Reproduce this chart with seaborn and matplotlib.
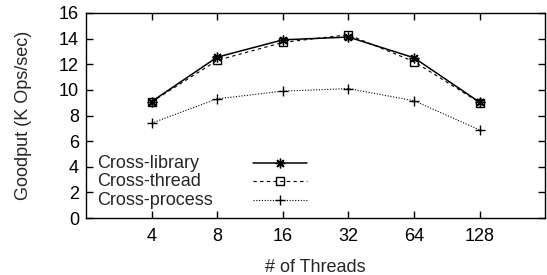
import matplotlib
matplotlib.use("Agg")
import matplotlib.pyplot as plt
import seaborn as sns
import pandas as pd

# data
threads = [4, 8, 16, 32, 64, 128]
cross_library = [9.08, 12.55, 13.9, 14.12, 12.5, 9.03]
cross_thread = [9.05, 12.3, 13.7, 14.3, 12.2, 9.0]
cross_process = [7.4, 9.3, 9.9, 10.1, 9.15, 6.87]
series_names = ["Cross-library", "Cross-thread", "Cross-process"]

sns.set_style("ticks")
plt.rcParams['font.family'] = ['Liberation Sans', 'DejaVu Sans']
plt.rcParams['font.size'] = 13

fig = plt.figure(figsize=(5.47, 2.75), dpi=100)
ax = fig.add_axes([0.157, 0.207, 0.84, 0.746])

styles = [
    dict(linestyle='-', marker=(8, 2, 0), markersize=7, dashes=None),
    dict(linestyle='--', marker='s', markersize=6, dashes=(3, 3)),
    dict(linestyle=':', marker='+', markersize=7, dashes=(1, 1.5)),
]
values = [cross_library, cross_thread, cross_process]

for name, vals, st in zip(series_names, values, styles):
    df = pd.DataFrame({"threads": threads, "goodput": vals})
    sns.lineplot(data=df, x="threads", y="goodput", ax=ax, color='black',
                 linewidth=1.1 if st['linestyle'] == '-' else 0.8,
                 marker=st['marker'], markersize=st['markersize'],
                 markerfacecolor='none', markeredgecolor='black',
                 markeredgewidth=1.0)
    line = ax.lines[-1]
    if st['dashes'] is not None:
        line.set_dashes(st['dashes'])

ax.set_xscale('log', base=2)
ax.set_xlim(2, 256)
ax.set_ylim(0, 16)
ax.set_xticks(threads)
ax.set_xticklabels([str(t) for t in threads])
ax.minorticks_off()
ax.set_yticks(range(0, 17, 2))
ax.tick_params(direction='in', length=5, width=1, top=True, right=True,
               labelsize=13, colors='black', pad=5)
ax.tick_params(axis='x', pad=7)
for sp in ax.spines.values():
    sp.set_linewidth(1.0)
    sp.set_color('black')

ax.set_xlabel("# of Threads", fontsize=13, labelpad=10)
ax.set_ylabel("Goodput (K Ops/sec)", fontsize=13, labelpad=19)

# gnuplot-style key: label on the left, sample on the right
key_y = [0.268, 0.18, 0.088]
for name, st, yy in zip(series_names, styles, key_y):
    ax.text(0.024, yy, name, transform=ax.transAxes, ha='left', va='center',
            fontsize=13)
    kl, = ax.plot([0.364, 0.481], [yy, yy], transform=ax.transAxes,
                  color='black', linewidth=1.1 if st['linestyle'] == '-' else 0.8)
    if st['dashes'] is not None:
        kl.set_dashes(st['dashes'])
    ax.plot([0.4225], [yy], transform=ax.transAxes, marker=st['marker'],
            markersize=st['markersize'], markerfacecolor='none',
            markeredgecolor='black', markeredgewidth=1.0, linestyle='none')

fig.savefig("out.png", dpi=100)
